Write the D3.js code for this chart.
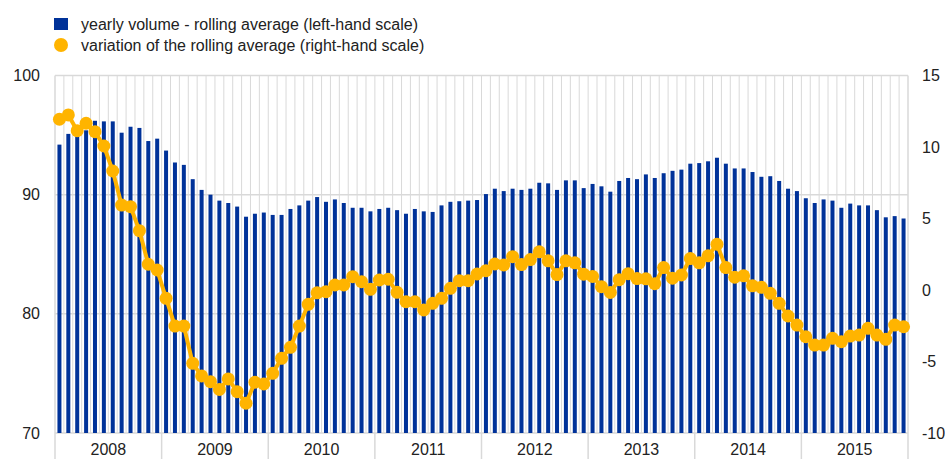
<!DOCTYPE html>
<html>
<head>
<meta charset="utf-8">
<script src="https://cdn.jsdelivr.net/npm/d3@7"></script>
<style>
  body { margin: 0; background: #fff; }
  text { font-family: "Liberation Sans", Arial, sans-serif; fill: #222; }
</style>
</head>
<body>
<svg id="chart" width="945" height="459"></svg>
<script>
// monthly data, Jan 2008 .. Dec 2015
var years = ["2008", "2009", "2010", "2011", "2012", "2013", "2014", "2015"]

var volume = [
  94.2, 95.1, 94.9, 95.4, 96.2, 96.15, 96.15, 95.2, 95.7, 95.6, 94.5, 94.7,
  93.7, 92.7, 92.5, 91.3, 90.4, 90.0, 89.5, 89.3, 89.0, 88.15, 88.4, 88.5,
  88.3, 88.3, 88.8, 89.1, 89.5, 89.8, 89.4, 89.6, 89.3, 88.9, 88.9, 88.6,
  88.8, 88.9, 88.7, 88.4, 88.8, 88.6, 88.55, 89.1, 89.4, 89.45, 89.5, 89.55,
  90.05, 90.5, 90.3, 90.5, 90.4, 90.5, 91.0, 90.95, 90.4, 91.2, 91.2, 90.55,
  90.9, 90.7, 90.25, 91.15, 91.4, 91.3, 91.7, 91.4, 91.8, 92.0, 92.1, 92.6,
  92.65, 92.8, 93.1, 92.6, 92.2, 92.2, 91.9, 91.5, 91.55, 91.15, 90.5, 90.3,
  89.7, 89.3, 89.6, 89.5, 88.9, 89.25, 89.1, 89.1, 88.7, 88.1, 88.2, 88.0
]

var variation = [
  11.94, 12.24, 11.14, 11.66, 11.07, 10.07, 8.32, 5.94, 5.83, 4.15, 1.8, 1.4,
  -0.58, -2.52, -2.52, -5.13, -6.01, -6.41, -6.95, -6.22, -7.11, -7.92, -6.45, -6.57,
  -5.83, -4.78, -4.01, -2.52, -1.0, -0.2, -0.12, 0.35, 0.35, 0.93, 0.58, 0.05,
  0.7, 0.75, -0.16, -0.82, -0.82, -1.4, -0.93, -0.58, 0.12, 0.65, 0.65, 1.12,
  1.35, 1.82, 1.75, 2.33, 1.78, 2.13, 2.67, 2.04, 1.08, 2.04, 1.9, 1.11,
  0.95, 0.23, -0.17, 0.72, 1.14, 0.8, 0.78, 0.44, 1.57, 0.82, 1.05, 2.2,
  1.9, 2.39, 3.2, 1.57, 0.89, 0.99, 0.29, 0.19, -0.23, -0.93, -1.82, -2.45,
  -3.27, -3.85, -3.85, -3.38, -3.62, -3.22, -3.15, -2.68, -3.15, -3.45, -2.45, -2.57
]

var leftTicks = [70, 80, 90, 100]
var rightTicks = [-10, -5, 0, 5, 10, 15]

var legendLabels = [
  "yearly volume - rolling average (left-hand scale)",
  "variation of the rolling average (right-hand scale)"
]

function drawChart() {
  var blue = "#003299", orange = "#ffb400", grid = "#d9d9d9"

  var svg = d3.select("#chart")
  // plot box (note: "top" is a window global, so use other names)
  var x0 = 55, x1 = 908, y0 = 75.5, y1 = 433

  var x = d3.scaleBand()
    .domain(d3.range(volume.length))
    .range([x0, x1])
    .paddingInner(0.55)
    .paddingOuter(0.275)
  var step = (x1 - x0) / volume.length

  var yL = d3.scaleLinear().domain([70, 100]).range([y1, y0])
  var yR = d3.scaleLinear().domain([-10, 15]).range([y1, y0])

  // vertical grid at month boundaries
  svg.append("g").selectAll("line")
    .data(d3.range(1, volume.length))
    .enter().append("line")
    .attr("x1", d => x0 + d * step).attr("x2", d => x0 + d * step)
    .attr("y1", y0).attr("y2", y1)
    .attr("stroke", grid).attr("stroke-width", 1)

  // horizontal grid (left scale)
  svg.append("g").selectAll("line")
    .data(leftTicks)
    .enter().append("line")
    .attr("x1", x0).attr("x2", x1)
    .attr("y1", d => yL(d)).attr("y2", d => yL(d))
    .attr("stroke", grid).attr("stroke-width", 1.5)

  // plot frame sides
  svg.append("line").attr("x1", x0).attr("x2", x0).attr("y1", y0).attr("y2", 459)
    .attr("stroke", grid).attr("stroke-width", 1.5)
  svg.append("line").attr("x1", x1).attr("x2", x1).attr("y1", y0).attr("y2", 459)
    .attr("stroke", grid).attr("stroke-width", 1.5)

  // year separators below axis
  svg.append("g").selectAll("line")
    .data(d3.range(1, years.length))
    .enter().append("line")
    .attr("x1", d => x0 + d * 12 * step).attr("x2", d => x0 + d * 12 * step)
    .attr("y1", y1).attr("y2", 459)
    .attr("stroke", grid).attr("stroke-width", 1.5)

  // bars
  svg.append("g").selectAll("rect")
    .data(volume)
    .enter().append("rect")
    .attr("x", (d, i) => x(i))
    .attr("width", x.bandwidth())
    .attr("y", d => yL(d))
    .attr("height", d => y1 - yL(d))
    .attr("fill", blue)

  // line + markers
  var line = d3.line()
    .x((d, i) => x(i) + x.bandwidth() / 2)
    .y(d => yR(d))

  svg.append("path")
    .datum(variation)
    .attr("d", line)
    .attr("fill", "none")
    .attr("stroke", orange)
    .attr("stroke-width", 4)
    .attr("stroke-linejoin", "round")

  svg.append("g").selectAll("circle")
    .data(variation)
    .enter().append("circle")
    .attr("cx", (d, i) => x(i) + x.bandwidth() / 2)
    .attr("cy", d => yR(d))
    .attr("r", 6.5)
    .attr("fill", orange)

  // left axis labels
  svg.append("g").selectAll("text")
    .data(leftTicks)
    .enter().append("text")
    .attr("x", 40).attr("y", d => yL(d))
    .attr("dy", "0.35em")
    .attr("text-anchor", "end")
    .style("font-size", "16px")
    .text(d => d)

  // right axis labels
  svg.append("g").selectAll("text")
    .data(rightTicks)
    .enter().append("text")
    .attr("x", 922).attr("y", d => yR(d))
    .attr("dy", "0.35em")
    .style("font-size", "16px")
    .text(d => d)

  // year labels
  svg.append("g").selectAll("text")
    .data(years)
    .enter().append("text")
    .attr("x", (d, i) => x0 + (i + 0.5) * 12 * step)
    .attr("y", 449.5)
    .attr("dy", "0.35em")
    .attr("text-anchor", "middle")
    .style("font-size", "16px")
    .text(d => d)

  // legend
  var lg = svg.append("g")
  lg.append("rect").attr("x", 54).attr("y", 18).attr("width", 14).attr("height", 12).attr("fill", blue)
  lg.append("circle").attr("cx", 61).attr("cy", 45).attr("r", 7).attr("fill", orange)
  lg.selectAll("text")
    .data(legendLabels)
    .enter().append("text")
    .attr("x", 81).attr("y", (d, i) => 24 + i * 21)
    .attr("dy", "0.35em")
    .style("font-size", "16px")
    .text(d => d)
}

drawChart()
</script>
</body>
</html>
